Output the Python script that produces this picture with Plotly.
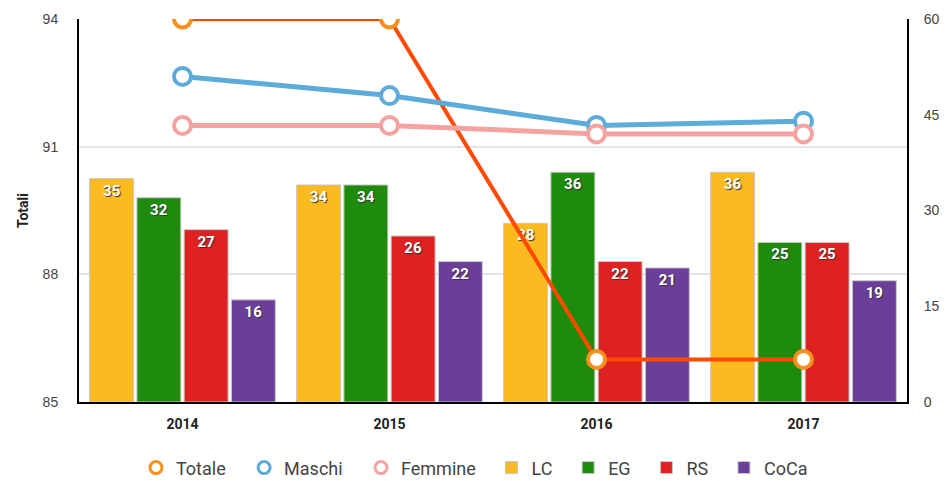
import plotly.graph_objects as go

years = ["2014", "2015", "2016", "2017"]
totale = [94, 94, 86, 86]
maschi = [92.65, 92.2, 91.5, 91.6]
femmine = [91.5, 91.5, 91.3, 91.3]
lc = [35, 34, 28, 36]
eg = [32, 34, 36, 25]
rs = [27, 26, 22, 25]
coca = [16, 22, 21, 19]

bar_series = [("LC", lc, "#FBBA1F"), ("EG", eg, "#1E8B0C"), ("RS", rs, "#DE2121"), ("CoCa", coca, "#6B3E9A")]
line_series = [("Totale", totale, "#FF4A00", "#F7901E", 4), ("Maschi", maschi, "#5CABDA", "#5CABDA", 5),
               ("Femmine", femmine, "#F5A3A0", "#F5A3A0", 5)]

PAD = "\u00a0\u00a0\u00a0"
PAD_S = "\u00a0\u00a0\u200a"

fig = go.Figure()
rank = 10
for name, vals, col in bar_series:
    fig.add_trace(go.Bar(
        x=years, y=vals, name=name + PAD_S, yaxis="y",
        marker=dict(color=col, line=dict(color="#c8c8c8", width=1)),
        text=[str(v) for v in vals], textposition="inside", insidetextanchor="end",
        textangle=0,
        textfont=dict(family="Roboto", size=15, color="white", weight="bold", shadow="1px 1px 1px #333"),
        legendrank=rank + 10,
    ))
    rank += 1

for i, (name, vals, lcol, mcol, lw) in enumerate(line_series):
    fig.add_trace(go.Scatter(
        x=years, y=vals, name=name, yaxis="y2", mode="lines+markers",
        line=dict(color=lcol, width=lw),
        marker=dict(symbol="circle", size=17, color="white", line=dict(color=mcol, width=4)),
        showlegend=False,
    ))
    fig.add_trace(go.Scatter(
        x=[None], y=[None], name=name + (PAD_S if name == "Femmine" else PAD), yaxis="y2", mode="markers",
        marker=dict(symbol="circle", size=12, color="white", line=dict(color=mcol, width=3)),
        legendrank=i + 1,
    ))

fig.update_layout(
    width=946, height=481,
    margin=dict(l=79, r=39, t=19, b=79, autoexpand=False),
    plot_bgcolor="white", paper_bgcolor="white",
    barmode="group", bargap=0.087, bargroupgap=0.07,
    font=dict(family="Roboto", color="#444"),
    xaxis=dict(
        showline=True, linecolor="black", linewidth=2, showgrid=False,
        tickfont=dict(size=14, color="#222", weight="bold"),
        ticks="outside", ticklen=8, tickcolor="rgba(0,0,0,0)",
    ),
    yaxis=dict(
        side="right", range=[0, 60], tickvals=[0, 15, 30, 45, 60],
        showgrid=False, zeroline=False, showline=True, linecolor="black", linewidth=2,
        tickfont=dict(family="Liberation Sans", size=14, color="#444"),
        ticks="outside", ticklen=12, tickcolor="rgba(0,0,0,0)",
    ),
    yaxis2=dict(
        side="left", overlaying="y", range=[85, 94], tickvals=[85, 88, 91, 94],
        showgrid=True, gridcolor="#e4e4e4", gridwidth=1.5, zeroline=False,
        showline=True, linecolor="black", linewidth=2,
        tickfont=dict(family="Liberation Sans", size=14, color="#444"),
        ticks="outside", ticklen=16, tickcolor="rgba(0,0,0,0)",
        title=dict(text="Totali", font=dict(size=14, color="#222", weight="bold"), standoff=11),
    ),
    legend=dict(
        orientation="h", x=0.0688, xanchor="left", y=-0.172, yanchor="middle",
        font=dict(size=18, color="#444"), itemwidth=30, traceorder="normal",
    ),
)

fig.write_html("out.html", config={"displayModeBar": False},
               post_script="document.body.style.margin='0';document.body.style.overflow='hidden';")
